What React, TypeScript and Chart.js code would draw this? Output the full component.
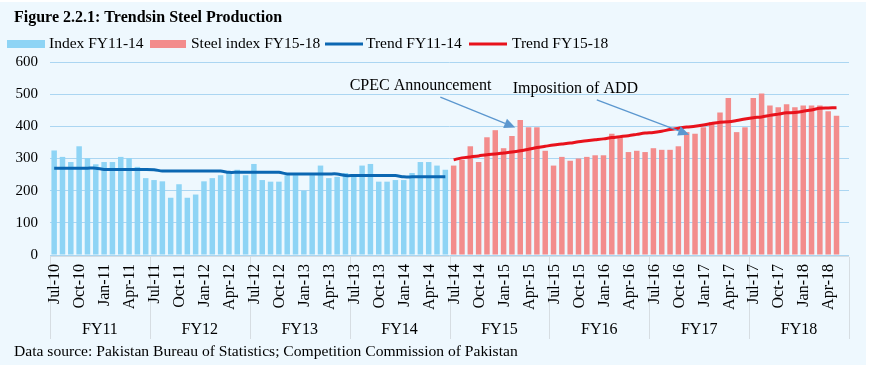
import React, { useEffect, useRef } from "react";
import { Chart, registerables } from "chart.js";

Chart.register(...registerables);

const MONTHS = ["Jul", "Aug", "Sep", "Oct", "Nov", "Dec", "Jan", "Feb", "Mar", "Apr", "May", "Jun"];
const FISCAL_YEARS = ["FY11", "FY12", "FY13", "FY14", "FY15", "FY16", "FY17", "FY18"];

const index_FY11_14: number[] = [
  325, 305, 289, 338, 301, 282, 289, 289, 305, 301, 274, 239,
  233, 229, 178, 220, 178, 188, 229, 239, 248, 258, 265, 248,
  283, 233, 228, 228, 248, 248, 200, 248, 278, 239, 243, 255,
  248, 278, 283, 228, 228, 233, 233, 255, 289, 289, 278, 265,
];
const steelIndex_FY15_18: (number | null)[] = [
  278, 296, 338, 289, 366, 388, 332, 370, 420, 397, 397, 324,
  278, 305, 293, 300, 305, 310, 310, 377, 366, 320, 324, 320,
  332, 327, 327, 338, 382, 377, 397, 413, 443, 488, 382, 397,
  488, 502, 465, 459, 469, 459, 465, 465, 465, 447, 433, null,
];
const trend_FY11_14: number[] = [
  270, 270, 270, 270, 270, 270, 266, 266, 266, 266, 266, 266,
  265, 261, 261, 261, 261, 261, 261, 261, 261, 257, 257, 257,
  257, 257, 257, 257, 252, 252, 252, 252, 252, 252, 252, 247,
  247, 247, 247, 247, 247, 247, 243, 243, 243, 243, 243, 243,
];
const trend_FY15_18: (number | null)[] = [
  296, 302, 305, 308, 312, 314, 317, 320, 324, 329, 334, 338,
  342, 345, 348, 352, 355, 358, 361, 365, 368, 371, 375, 379,
  381, 385, 390, 394, 398, 400, 404, 409, 413, 414, 418, 423,
  427, 429, 434, 438, 442, 443, 447, 451, 456, 457, 458, null,
];

const YEAR_START = [10, 11, 12, 13, 14, 15, 16, 17, 18];
const labels: string[] = [];
for (let y = 0; y < 8; y++) {
  for (let m = 0; m < 12; m++) {
    const yr = m < 6 ? YEAR_START[y] : YEAR_START[y + 1];
    labels.push(`${MONTHS[m]}-${yr}`);
  }
}

const blueBars = [...index_FY11_14, ...new Array(48).fill(null)];
const redBars = [...new Array(48).fill(null), ...steelIndex_FY15_18];
const blueTrend = [...trend_FY11_14, ...new Array(48).fill(null)];
const redTrend = [...new Array(48).fill(null), ...trend_FY15_18];

const ANNOTATIONS = [
  { text: "CPEC Announcement", textIdx: 35.5, textVal: 526, fromIdx: 46.4, fromVal: 491, toIdx: 55.4, toVal: 396 },
  { text: "Imposition of ADD", textIdx: 55.1, textVal: 517, fromIdx: 65.2, fromVal: 482, toIdx: 76.3, toVal: 374 },
];

const BG = "#eef8fe";
const SERIF = "'Liberation Serif', 'Times New Roman', serif";
const BLUE_BAR = "#8ed4f5";
const RED_BAR = "#f38c8c";
const BLUE_LINE = "#0b67b2";
const RED_LINE = "#e8121c";
const ARROW = "#5b97cf";

const decorPlugin = {
  id: "decor",
  beforeDraw(chart: any) {
    const ctx = chart.ctx;
    ctx.save();
    ctx.fillStyle = "#ffffff";
    ctx.fillRect(0, 0, chart.width, chart.height);
    ctx.fillStyle = BG;
    ctx.fillRect(0, 2, 866, 363);
    ctx.restore();
  },
  afterDraw(chart: any) {
    const ctx = chart.ctx;
    const x = chart.scales.x;
    const y = chart.scales.y;
    const area = chart.chartArea;
    ctx.save();

    // title
    ctx.fillStyle = "#000";
    ctx.textBaseline = "middle";
    ctx.textAlign = "left";
    ctx.font = `bold 16px ${SERIF}`;
    ctx.fillText("Figure 2.2.1: Trendsin Steel Production", 14, 18);

    // legend
    ctx.font = `15.5px ${SERIF}`;
    const ly = 44;
    ctx.fillStyle = BLUE_BAR;
    ctx.fillRect(7, ly - 4, 38, 8);
    ctx.fillStyle = "#000";
    ctx.fillText("Index FY11-14", 49, ly);
    ctx.fillStyle = RED_BAR;
    ctx.fillRect(150, ly - 4, 36, 8);
    ctx.fillStyle = "#000";
    ctx.fillText("Steel index FY15-18", 191, ly);
    ctx.strokeStyle = BLUE_LINE;
    ctx.lineWidth = 3;
    ctx.beginPath();
    ctx.moveTo(325, ly);
    ctx.lineTo(363, ly);
    ctx.stroke();
    ctx.fillStyle = "#000";
    ctx.fillText("Trend FY11-14", 366, ly);
    ctx.strokeStyle = RED_LINE;
    ctx.beginPath();
    ctx.moveTo(469, ly);
    ctx.lineTo(507, ly);
    ctx.stroke();
    ctx.fillText("Trend FY15-18", 512, ly);

    // x-axis: separators, month labels, FY labels
    const step = (x.getPixelForValue(1) - x.getPixelForValue(0));
    ctx.strokeStyle = "#d6dde2";
    ctx.lineWidth = 1;
    for (let k = 0; k <= 8; k++) {
      const px = Math.round(x.getPixelForValue(k * 12) - step / 2) + 0.5;
      ctx.beginPath();
      ctx.moveTo(px, area.bottom + 2);
      ctx.lineTo(px, area.bottom + 84);
      ctx.stroke();
    }
    ctx.beginPath();
    ctx.moveTo(area.left, area.bottom + 1.5);
    ctx.lineTo(area.right, area.bottom + 1.5);
    ctx.stroke();

    ctx.fillStyle = "#000";
    ctx.font = `16px ${SERIF}`;
    for (let i = 0; i < labels.length; i += 3) {
      const px = x.getPixelForValue(i);
      ctx.save();
      ctx.translate(px, area.bottom + 9);
      ctx.rotate(-Math.PI / 2);
      ctx.textAlign = "right";
      ctx.textBaseline = "middle";
      ctx.fillText(labels[i], 0, 1);
      ctx.restore();
    }
    ctx.textAlign = "center";
    ctx.textBaseline = "middle";
    for (let k = 0; k < 8; k++) {
      const px = (x.getPixelForValue(k * 12) + x.getPixelForValue(k * 12 + 11)) / 2;
      ctx.fillText(FISCAL_YEARS[k], px, area.bottom + 75);
    }

    // source
    ctx.textAlign = "left";
    ctx.font = `15.6px ${SERIF}`;
    ctx.fillText("Data source: Pakistan Bureau of Statistics; Competition Commission of Pakistan", 14, 352);

    // annotations
    for (const a of ANNOTATIONS) {
      ctx.fillStyle = "#000";
      ctx.textAlign = "left";
      ctx.font = `16px ${SERIF}`;
      ctx.fillText(a.text, x.getPixelForValue(a.textIdx), y.getPixelForValue(a.textVal));
      const x0 = x.getPixelForValue(a.fromIdx), y0 = y.getPixelForValue(a.fromVal);
      const x1 = x.getPixelForValue(a.toIdx), y1 = y.getPixelForValue(a.toVal);
      const ang = Math.atan2(y1 - y0, x1 - x0);
      const head = 11, half = 5;
      const bx = x1 - head * Math.cos(ang), by = y1 - head * Math.sin(ang);
      ctx.strokeStyle = ARROW;
      ctx.lineWidth = 1.3;
      ctx.beginPath();
      ctx.moveTo(x0, y0);
      ctx.lineTo(bx, by);
      ctx.stroke();
      ctx.fillStyle = ARROW;
      ctx.beginPath();
      ctx.moveTo(x1, y1);
      ctx.lineTo(bx + half * Math.sin(ang), by - half * Math.cos(ang));
      ctx.lineTo(bx - half * Math.sin(ang), by + half * Math.cos(ang));
      ctx.closePath();
      ctx.fill();
    }
    ctx.restore();
  },
};

export default function App() {
  const ref = useRef<HTMLCanvasElement | null>(null);
  useEffect(() => {
    document.body.style.margin = "0";
    const canvas = ref.current;
    if (!canvas) return;
    const chart = new Chart(canvas, {
      type: "bar",
      data: {
        labels,
        datasets: [
          { type: "line", label: "Trend FY11-14", data: blueTrend, borderColor: BLUE_LINE, borderWidth: 3, pointRadius: 0, tension: 0.3, spanGaps: false, order: 0 } as any,
          { type: "line", label: "Trend FY15-18", data: redTrend, borderColor: RED_LINE, borderWidth: 3, pointRadius: 0, tension: 0.3, spanGaps: false, order: 0 } as any,
          { label: "Index FY11-14", data: blueBars, backgroundColor: BLUE_BAR, grouped: false, barPercentage: 0.66, categoryPercentage: 1, order: 1 } as any,
          { label: "Steel index FY15-18", data: redBars, backgroundColor: RED_BAR, grouped: false, barPercentage: 0.66, categoryPercentage: 1, order: 1 } as any,
        ],
      },
      options: {
        responsive: false,
        animation: false,
        layout: { padding: { top: 62, right: 20, left: 0, bottom: 0 } },
        plugins: { legend: { display: false }, title: { display: false }, tooltip: { enabled: false } },
        scales: {
          x: {
            ticks: { display: false },
            grid: { display: false, drawTicks: false },
            border: { display: false },
            afterFit(s: any) { s.height = 112; },
          },
          y: {
            min: 0,
            max: 600,
            ticks: { stepSize: 100, color: "#000", font: { family: SERIF, size: 15 }, padding: 12 },
            grid: { color: "#abd6f2", drawTicks: false, lineWidth: 1 },
            border: { display: false },
            afterFit(s: any) { s.width = 50; },
          },
        },
      },
      plugins: [decorPlugin],
    });
    return () => chart.destroy();
  }, []);
  return (
    <div style={{ width: 869, height: 367 }}>
      <canvas ref={ref} width={869} height={367} style={{ display: "block", width: 869, height: 367 }} />
    </div>
  );
}
